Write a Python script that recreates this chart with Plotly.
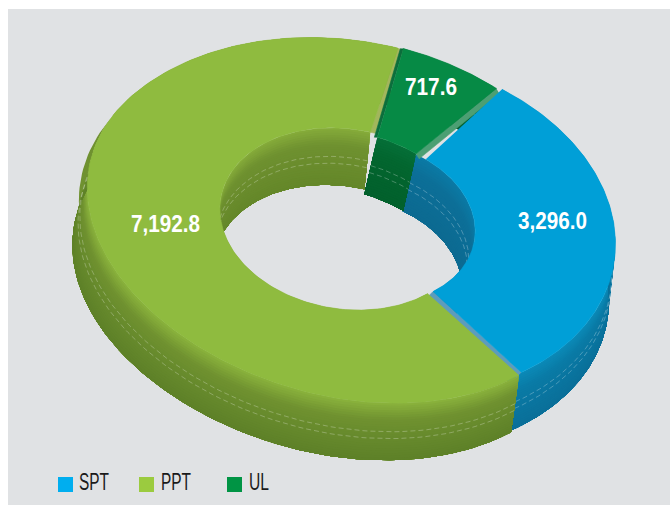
import numpy as np
import plotly.graph_objects as go

# ---- data ----
categories = ["SPT", "PPT", "UL"]
values = [3296.0, 7192.8, 717.6]

# ---- style ----
face_colors = ["#009fd7", "#8fbb3f", "#068a45"]
legend_colors = ["#00aeef", "#9bcb3f", "#009444"]
outer_wall = [("#0b8ab8", "#0a7ba6", "#0a6f99"), ("#8ab23c", "#6f9130", "#5d8028"), ("#0a7a3e", "#066b35", "#05602e")]
inner_wall = [("#0b7ba6", "#0c6f98", "#0c6a91"), ("#86ac3a", "#6f9130", "#648729"), ("#056f38", "#03662f", "#02602c")]
cut_color = {"SPT": "#5d9cbc", "PPT": "#a2b65c", "UL": "#4c9f73"}
FONT = "Liberation Sans, Arial"

PHI = np.radians(9.4)
START = 28.0
DEPTH_Y = 57.0
BANDS = 24
# per-slice ring geometry in the drawing's pixel frame
GEOM = {
    "SPT": dict(oc=(380, 225), oa=237, ob=169, ic=(362, 222), ia=114, ib=81.5, nudge=0.0,
                pad_o=(3.5, 2.5), pad_i=0.5, squash=0.0, cut=(-5, 5), wall_extra=4.0, inner_dx=-13, inner_back=6.0, rim=0),
    "PPT": dict(oc=(340, 226), oa=263, ob=186, ic=(345, 219), ia=126, ib=90, nudge=-1.0,
                pad_o=(3.2, 2.2), pad_i=1.0, squash=0.11, cut=(5, 1), wall_extra=0.0, inner_dx=-6, inner_back=0.0, rim=9),
    "UL": dict(oc=(340, 225), oa=260, ob=186, ic=(345, 219), ia=122, ib=87, nudge=2.5,
               pad_o=(0.0, 0.0), pad_i=-1.3, squash=0.0, cut=(3, 5), wall_extra=0.0, inner_dx=-13, inner_back=0.0, rim=0),
}


def arc(c, a, b, t0, t1, squash=0.0, n=160):
    th = np.linspace(t0, t1, n)
    s = np.ones_like(th)
    if squash:
        m = np.mod(th, 360)
        mask = (m > 115) & (m < 300)
        s[mask] = 1 - squash * np.sin(np.pi * (m[mask] - 115) / 185) ** 2
    t = np.radians(th)
    u = a * s * np.sin(t)
    v = -b * s * np.cos(t)
    return c[0] + u * np.cos(PHI) - v * np.sin(PHI), c[1] + u * np.sin(PHI) + v * np.cos(PHI)


def depth_dx(x):
    return -8 - 7 * (520 - x) / 440


def mix(c0, c1, f):
    p = [int(c0[i:i + 2], 16) for i in (1, 3, 5)]
    q = [int(c1[i:i + 2], 16) for i in (1, 3, 5)]
    return "#%02x%02x%02x" % tuple(round(x + (y - x) * f) for x, y in zip(p, q))


def ramp(cols, f):
    return mix(cols[0], cols[1], f / 0.3) if f < 0.3 else mix(cols[1], cols[2], (f - 0.3) / 0.7)


def poly(x, y, color, line=0.6):
    return go.Scatter(x=list(x), y=list(y), mode="lines", fill="toself", fillcolor=color,
                      line=dict(color=color, width=line), hoverinfo="skip", showlegend=False)


def wall(x, y, cols, dx):
    # each band runs from its own depth to the full depth, so no background shows between bands
    out = []
    for k in range(BANDS):
        f0 = k / BANDS
        xs = np.r_[x + dx * f0, (x + dx)[::-1]]
        ys = np.r_[y + DEPTH_Y * f0, (y + DEPTH_Y)[::-1]]
        out.append(poly(xs, ys, ramp(cols, (k + .5) / BANDS), line=0))
    return out


def seams(x, y, dx):
    return [go.Scatter(x=x + dx * f, y=y + DEPTH_Y * f, mode="lines",
                       line=dict(color="rgba(255,255,255,0.38)", width=0.7, dash="5px,3px"),
                       hoverinfo="skip", showlegend=False) for f in (0.5, 0.62)]


total = sum(values)
walls, cuts, faces = [], [], []
cum = START
for i, name in enumerate(categories):
    g = GEOM[name]
    sweep = values[i] / total * 360
    t0, t1 = cum + g["nudge"], cum + sweep + g["nudge"]
    cum += sweep
    ox, oy = arc(g["oc"], g["oa"], g["ob"], t0 - g["pad_o"][0], t1 + g["pad_o"][1], g["squash"])
    ix, iy = arc(g["ic"], g["ia"], g["ib"], t0 - g["pad_i"], t1 + g["pad_i"])
    wx, wy = arc(g["oc"], g["oa"], g["ob"], t0 - g["pad_o"][0], t1 + g["pad_o"][1] + g["wall_extra"], g["squash"])
    vx, vy = arc(g["ic"], g["ia"], g["ib"], t0 - g["pad_i"] - g["inner_back"], t1 + g["pad_i"])
    if g["rim"]:
        # thin edge of the wall, tapering away as it wraps up the far left side of the ring
        rim_dx = g["rim"] * np.clip((wy - 100) / 100, 0, 1)
        walls.append(poly(np.r_[wx, (wx - rim_dx)[::-1]], np.r_[wy, (wy + 2)[::-1]], outer_wall[i][1], line=0))
    walls += wall(wx, wy, outer_wall[i], depth_dx(wx)) + seams(wx, wy, depth_dx(wx))
    walls += wall(vx, vy, inner_wall[i], g["inner_dx"]) + seams(vx, vy, g["inner_dx"])
    dx, dy = g["cut"]
    cuts.append(poly([ox[-1], ix[-1], ix[-1] + dx, ox[-1] + dx], [oy[-1], iy[-1], iy[-1] + dy, oy[-1] + dy], cut_color[name]))
    if name == "UL":
        cuts.append(poly([ox[0], ix[0], ix[0] - 3, ox[0] - 3], [oy[0], iy[0], iy[0], oy[0]], "#0b6e3c"))
    faces.append(poly(np.r_[ox, ix[::-1]], np.r_[oy, iy[::-1]], face_colors[i]))

fig = go.Figure(walls + cuts + faces)

# value labels
label_x = [552.5, 165.5, 431]
label_y = [223, 226, 89]
fig.add_trace(go.Scatter(x=label_x, y=label_y, mode="text", text=[f"{v:,.1f}" for v in values],
                         textfont=dict(family=FONT, size=24, color="white", weight="bold"),
                         hoverinfo="skip", showlegend=False))

# legend key, placed by hand like the reference
key_x = [65.5, 146.5, 234.5]
key_y = 484.5
text_x = [79, 161, 249]
fig.add_trace(go.Scatter(x=key_x, y=[key_y] * 3, mode="markers", hoverinfo="skip", showlegend=False,
                         marker=dict(symbol="square", size=15, color=legend_colors, line=dict(width=0))))
fig.add_trace(go.Scatter(x=text_x, y=[key_y] * 3, mode="text", text=categories, textposition="middle right",
                         textfont=dict(family=FONT, size=23, color="#1a1a1a"),
                         hoverinfo="skip", showlegend=False))

fig.update_layout(
    width=670, height=505, margin=dict(l=0, r=0, t=0, b=0),
    paper_bgcolor="white", plot_bgcolor="#e0e2e4",
    xaxis=dict(range=[8, 670], domain=[8 / 670, 1], visible=False),
    yaxis=dict(range=[505, 9], domain=[0, 496 / 505], visible=False),
    showlegend=False,
)

# The reference's type is condensed and no condensed family is installed: narrow the real text.
widths = {"7,192.8": 69, "3,296.0": 69, "717.6": 52, "SPT": 30, "PPT": 30, "UL": 20}
post = """
document.body.style.margin='0';document.body.style.overflow='hidden';
var w=%s;
document.querySelectorAll('.textpoint text').forEach(function(t){
  var n=w[t.textContent]; if(n){t.setAttribute('textLength',n);t.setAttribute('lengthAdjust','spacingAndGlyphs');}
});
""" % str(widths)
fig.write_html("out.html", config=dict(displayModeBar=False), post_script=post)
